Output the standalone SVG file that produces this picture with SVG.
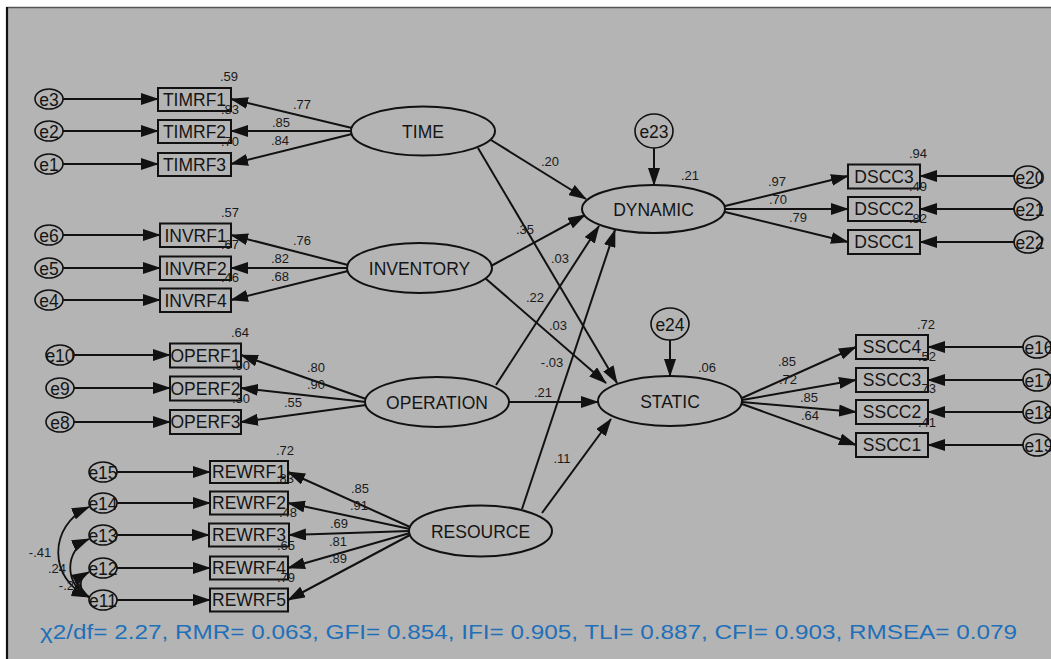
<svg xmlns="http://www.w3.org/2000/svg" width="1051" height="659" viewBox="0 0 1051 659">
  <style>
    .bg { fill: #b4b4b4; }
    .lat { fill: #b4b4b4; stroke: #111; stroke-width: 2; }
    .obs { fill: #b4b4b4; stroke: #111; stroke-width: 2; }
    .err { fill: #b4b4b4; stroke: #111; stroke-width: 1.6; }
    .path { fill: none; stroke: #111; stroke-width: 2; marker-end: url(#ah); }
    .cov { fill: none; stroke: #111; stroke-width: 1.8; marker-start: url(#ah); marker-end: url(#ah); }
    .lt { font-family: "Liberation Sans", Arial, sans-serif; font-size: 17.5px; fill: #141414; text-anchor: middle; }
    .ot { font-family: "Liberation Sans", Arial, sans-serif; font-size: 17.5px; fill: #141414; text-anchor: middle; }
    .et { font-family: "Liberation Sans", Arial, sans-serif; font-size: 17.5px; fill: #141414; text-anchor: middle; }
    .num { font-family: "Liberation Sans", Arial, sans-serif; font-size: 13px; fill: #1a1a1a; text-anchor: middle; }
    .fit { font-family: "Liberation Sans", Arial, sans-serif; font-size: 20px; fill: #1f70b8; }
  </style>
  <defs>
    <marker id="ah" markerUnits="userSpaceOnUse" markerWidth="18" markerHeight="12" refX="17" refY="6" orient="auto-start-reverse">
      <path d="M0,0 L18,6 L0,12 z" fill="#111"/>
    </marker>
  </defs>

  <!-- canvas -->
  <rect x="0" y="0" width="1051" height="659" fill="#ffffff"/>
  <rect class="bg" x="7" y="7" width="1044" height="652"/>
  <line x1="7" y1="7.5" x2="1051" y2="7.5" stroke="#555" stroke-width="1.5"/>
  <line x1="7" y1="7" x2="7" y2="659" stroke="#111" stroke-width="2.2"/>

  <!-- connectors -->
  <g id="connectors">
    <!-- error terms to indicators -->
    <line class="path" x1="63" y1="99" x2="158" y2="99"/>
    <line class="path" x1="63" y1="131" x2="158" y2="131"/>
    <line class="path" x1="63" y1="164" x2="158" y2="164"/>
    <line class="path" x1="63" y1="235" x2="160" y2="235"/>
    <line class="path" x1="63" y1="268" x2="160" y2="268"/>
    <line class="path" x1="63" y1="300" x2="160" y2="300"/>
    <line class="path" x1="74" y1="355" x2="170" y2="355"/>
    <line class="path" x1="74" y1="388" x2="170" y2="388"/>
    <line class="path" x1="74" y1="422" x2="170" y2="422"/>
    <line class="path" x1="117" y1="472" x2="210" y2="472"/>
    <line class="path" x1="117" y1="503" x2="210" y2="503"/>
    <line class="path" x1="117" y1="535" x2="209" y2="535"/>
    <line class="path" x1="117" y1="568" x2="210" y2="568"/>
    <line class="path" x1="117" y1="600" x2="210" y2="600"/>
    <line class="path" x1="1014" y1="176" x2="920" y2="176"/>
    <line class="path" x1="1014" y1="209" x2="920" y2="209"/>
    <line class="path" x1="1014" y1="242" x2="920" y2="242"/>
    <line class="path" x1="1023" y1="347" x2="928" y2="347"/>
    <line class="path" x1="1023" y1="380" x2="928" y2="380"/>
    <line class="path" x1="1023" y1="412" x2="928" y2="412"/>
    <line class="path" x1="1023" y1="445" x2="928" y2="445"/>
    <line class="path" x1="654" y1="148" x2="654" y2="185"/>
    <line class="path" x1="670" y1="340" x2="670" y2="376"/>

    <!-- loadings -->
    <line class="path" x1="352" y1="128" x2="231" y2="99"/>
    <line class="path" x1="352" y1="131" x2="231" y2="131"/>
    <line class="path" x1="352" y1="134" x2="231" y2="164"/>
    <line class="path" x1="348" y1="265" x2="231" y2="235"/>
    <line class="path" x1="348" y1="268" x2="231" y2="268"/>
    <line class="path" x1="348" y1="271" x2="231" y2="300"/>
    <line class="path" x1="366" y1="399" x2="241" y2="355"/>
    <line class="path" x1="366" y1="402" x2="241" y2="388"/>
    <line class="path" x1="366" y1="405" x2="241" y2="422"/>
    <line class="path" x1="410" y1="527" x2="288" y2="472"/>
    <line class="path" x1="410" y1="529" x2="288" y2="503"/>
    <line class="path" x1="410" y1="531" x2="289" y2="535"/>
    <line class="path" x1="410" y1="533" x2="288" y2="568"/>
    <line class="path" x1="410" y1="535" x2="288" y2="600"/>
    <line class="path" x1="725" y1="206" x2="848" y2="176"/>
    <line class="path" x1="725" y1="209" x2="848" y2="209"/>
    <line class="path" x1="725" y1="212" x2="848" y2="242"/>
    <line class="path" x1="742" y1="398" x2="856" y2="347"/>
    <line class="path" x1="742" y1="400" x2="856" y2="380"/>
    <line class="path" x1="742" y1="402" x2="856" y2="412"/>
    <line class="path" x1="742" y1="404" x2="856" y2="445"/>

    <!-- structural paths -->
    <line class="path" x1="491" y1="140" x2="586" y2="199"/>
    <line class="path" x1="478" y1="148" x2="617" y2="383"/>
    <line class="path" x1="491" y1="266" x2="585" y2="215"/>
    <line class="path" x1="485" y1="278" x2="606" y2="383"/>
    <line class="path" x1="496" y1="385" x2="599" y2="226"/>
    <line class="path" x1="509" y1="402" x2="598" y2="402"/>
    <line class="path" x1="522" y1="509" x2="615" y2="230"/>
    <line class="path" x1="542" y1="513" x2="611" y2="419"/>

    <!-- covariances among residuals -->
    <path class="cov" d="M89,507 C48,525 48,580 89,597"/>
    <path class="cov" d="M89,539 C64,550 64,585 89,597"/>
    <path class="cov" d="M89,572 C78,578 78,590 89,597"/>
  </g>

  <!-- latent variables -->
  <g id="TIME"><ellipse class="lat" cx="423" cy="131" rx="72" ry="24.5"/><text class="lt" x="423" y="137.5">TIME</text></g>
  <g id="INVENTORY"><ellipse class="lat" cx="419.5" cy="268" rx="72.5" ry="25"/><text class="lt" x="419.5" y="274.5">INVENTORY</text></g>
  <g id="OPERATION"><ellipse class="lat" cx="437" cy="402" rx="72" ry="25"/><text class="lt" x="437" y="408.5">OPERATION</text></g>
  <g id="RESOURCE"><ellipse class="lat" cx="480.5" cy="531" rx="71.5" ry="25.5"/><text class="lt" x="480.5" y="537.5">RESOURCE</text></g>
  <g id="DYNAMIC"><ellipse class="lat" cx="653.5" cy="209" rx="71.5" ry="24"/><text class="lt" x="653.5" y="215.5">DYNAMIC</text></g>
  <g id="STATIC"><ellipse class="lat" cx="670" cy="401" rx="72" ry="25"/><text class="lt" x="670" y="407.5">STATIC</text></g>

  <!-- observed indicators -->
  <g id="TIMRF1"><rect class="obs" x="158" y="88" width="73" height="23"/><text class="ot" x="194.5" y="105.5">TIMRF1</text></g>
  <g id="TIMRF2"><rect class="obs" x="158" y="120" width="73" height="23"/><text class="ot" x="194.5" y="137.5">TIMRF2</text></g>
  <g id="TIMRF3"><rect class="obs" x="158" y="153" width="73" height="23"/><text class="ot" x="194.5" y="170.5">TIMRF3</text></g>
  <g id="INVRF1"><rect class="obs" x="160" y="223.5" width="71" height="23.5"/><text class="ot" x="195.5" y="241.5">INVRF1</text></g>
  <g id="INVRF2"><rect class="obs" x="160" y="256.5" width="71" height="23.5"/><text class="ot" x="195.5" y="274.5">INVRF2</text></g>
  <g id="INVRF4"><rect class="obs" x="160" y="288.5" width="71" height="23.5"/><text class="ot" x="195.5" y="306.5">INVRF4</text></g>
  <g id="OPERF1"><rect class="obs" x="170" y="343.5" width="71" height="24"/><text class="ot" x="205.5" y="361.5">OPERF1</text></g>
  <g id="OPERF2"><rect class="obs" x="170" y="376.5" width="71" height="24"/><text class="ot" x="205.5" y="394.5">OPERF2</text></g>
  <g id="OPERF3"><rect class="obs" x="170" y="410" width="71" height="24"/><text class="ot" x="205.5" y="428">OPERF3</text></g>
  <g id="REWRF1"><rect class="obs" x="210" y="461" width="78" height="22"/><text class="ot" x="249" y="478">REWRF1</text></g>
  <g id="REWRF2"><rect class="obs" x="210" y="491.5" width="78" height="23"/><text class="ot" x="249" y="509">REWRF2</text></g>
  <g id="REWRF3"><rect class="obs" x="209" y="523.5" width="80" height="23"/><text class="ot" x="249" y="541">REWRF3</text></g>
  <g id="REWRF4"><rect class="obs" x="210" y="556.5" width="78" height="23"/><text class="ot" x="249" y="574">REWRF4</text></g>
  <g id="REWRF5"><rect class="obs" x="210" y="588.5" width="78" height="23"/><text class="ot" x="249" y="606">REWRF5</text></g>
  <g id="DSCC3"><rect class="obs" x="848" y="164.5" width="72" height="24"/><text class="ot" x="884" y="182.5">DSCC3</text></g>
  <g id="DSCC2"><rect class="obs" x="848" y="197" width="72" height="24"/><text class="ot" x="884" y="215">DSCC2</text></g>
  <g id="DSCC1"><rect class="obs" x="848" y="230" width="72" height="24"/><text class="ot" x="884" y="248">DSCC1</text></g>
  <g id="SSCC4"><rect class="obs" x="856" y="335" width="72" height="24"/><text class="ot" x="892" y="353">SSCC4</text></g>
  <g id="SSCC3"><rect class="obs" x="856" y="368" width="72" height="24"/><text class="ot" x="892" y="386">SSCC3</text></g>
  <g id="SSCC2"><rect class="obs" x="856" y="400" width="72" height="24"/><text class="ot" x="892" y="418">SSCC2</text></g>
  <g id="SSCC1"><rect class="obs" x="856" y="433" width="72" height="24"/><text class="ot" x="892" y="451">SSCC1</text></g>

  <!-- error terms -->
  <g id="e3"><ellipse class="err" cx="49" cy="99" rx="14" ry="10"/><text class="et" x="49" y="105.5">e3</text></g>
  <g id="e2"><ellipse class="err" cx="49" cy="131" rx="14" ry="10"/><text class="et" x="49" y="137.5">e2</text></g>
  <g id="e1"><ellipse class="err" cx="49" cy="164" rx="14" ry="10"/><text class="et" x="49" y="170.5">e1</text></g>
  <g id="e6"><ellipse class="err" cx="49" cy="235" rx="14" ry="10"/><text class="et" x="49" y="241.5">e6</text></g>
  <g id="e5"><ellipse class="err" cx="49" cy="268" rx="14" ry="10"/><text class="et" x="49" y="274.5">e5</text></g>
  <g id="e4"><ellipse class="err" cx="49" cy="300" rx="14" ry="10"/><text class="et" x="49" y="306.5">e4</text></g>
  <g id="e10"><ellipse class="err" cx="60" cy="355" rx="14" ry="10"/><text class="et" x="60" y="361.5">e10</text></g>
  <g id="e9"><ellipse class="err" cx="60" cy="388" rx="14" ry="10"/><text class="et" x="60" y="394.5">e9</text></g>
  <g id="e8"><ellipse class="err" cx="60" cy="422" rx="14" ry="10"/><text class="et" x="60" y="428.5">e8</text></g>
  <g id="e15"><ellipse class="err" cx="103" cy="472" rx="14" ry="10"/><text class="et" x="103" y="478.5">e15</text></g>
  <g id="e14"><ellipse class="err" cx="103" cy="503" rx="14" ry="10"/><text class="et" x="103" y="509.5">e14</text></g>
  <g id="e13"><ellipse class="err" cx="103" cy="535" rx="14" ry="10"/><text class="et" x="103" y="541.5">e13</text></g>
  <g id="e12"><ellipse class="err" cx="103" cy="568" rx="14" ry="10"/><text class="et" x="103" y="574.5">e12</text></g>
  <g id="e11"><ellipse class="err" cx="103" cy="600" rx="14" ry="10"/><text class="et" x="103" y="606.5">e11</text></g>
  <g id="e23"><ellipse class="err" cx="654" cy="131" rx="19" ry="17"/><text class="et" x="654" y="137.5">e23</text></g>
  <g id="e24"><ellipse class="err" cx="670" cy="324" rx="19" ry="16"/><text class="et" x="670" y="330.5">e24</text></g>
  <g id="e20"><ellipse class="err" cx="1028" cy="177" rx="14" ry="11"/><text class="et" x="1030" y="183.5">e20</text></g>
  <g id="e21"><ellipse class="err" cx="1028" cy="209" rx="14" ry="11"/><text class="et" x="1030" y="215.5">e21</text></g>
  <g id="e22"><ellipse class="err" cx="1028" cy="242" rx="14" ry="11"/><text class="et" x="1030" y="248.5">e22</text></g>
  <g id="e16"><ellipse class="err" cx="1037" cy="347" rx="14" ry="11"/><text class="et" x="1039" y="353.5">e16</text></g>
  <g id="e17"><ellipse class="err" cx="1037" cy="380" rx="14" ry="11"/><text class="et" x="1039" y="386.5">e17</text></g>
  <g id="e18"><ellipse class="err" cx="1037" cy="412" rx="14" ry="11"/><text class="et" x="1039" y="418.5">e18</text></g>
  <g id="e19"><ellipse class="err" cx="1037" cy="445" rx="14" ry="11"/><text class="et" x="1039" y="451.5">e19</text></g>

  <!-- standardized estimates -->
  <g id="estimates">
    <text class="num" x="229" y="80.5">.59</text>
    <text class="num" x="302" y="108.5">.77</text>
    <text class="num" x="281" y="126.5">.85</text>
    <text class="num" x="280" y="144.5">.84</text>
    <text class="num" x="230" y="113.5">.83</text>
    <text class="num" x="230" y="145.5">.70</text>
    <text class="num" x="230" y="216.5">.57</text>
    <text class="num" x="302" y="244.5">.76</text>
    <text class="num" x="280" y="262.5">.82</text>
    <text class="num" x="280" y="280.5">.68</text>
    <text class="num" x="230" y="248.5">.67</text>
    <text class="num" x="230" y="281.5">.46</text>
    <text class="num" x="240" y="336.5">.64</text>
    <text class="num" x="316" y="371.5">.80</text>
    <text class="num" x="241" y="369.5">.90</text>
    <text class="num" x="316" y="388.5">.90</text>
    <text class="num" x="241" y="402.5">.30</text>
    <text class="num" x="293" y="406.5">.55</text>
    <text class="num" x="285" y="454.5">.72</text>
    <text class="num" x="285" y="482.5">.83</text>
    <text class="num" x="288" y="516.5">.48</text>
    <text class="num" x="286" y="549.5">.65</text>
    <text class="num" x="286" y="581.5">.79</text>
    <text class="num" x="360" y="492.5">.85</text>
    <text class="num" x="359" y="509.5">.91</text>
    <text class="num" x="339" y="527.5">.69</text>
    <text class="num" x="338" y="545.5">.81</text>
    <text class="num" x="338" y="562.5">.89</text>
    <text class="num" x="40" y="556.5">-.41</text>
    <text class="num" x="57" y="572.5">.24</text>
    <text class="num" x="70" y="589.5">-.23</text>
    <text class="num" x="550" y="165.5">.20</text>
    <text class="num" x="525" y="233.5">.35</text>
    <text class="num" x="560" y="262.5">.03</text>
    <text class="num" x="535" y="301.5">.22</text>
    <text class="num" x="558" y="329.5">.03</text>
    <text class="num" x="552" y="366.5">-.03</text>
    <text class="num" x="543" y="396.5">.21</text>
    <text class="num" x="562" y="462.5">.11</text>
    <text class="num" x="690" y="179.5">.21</text>
    <text class="num" x="707" y="371.5">.06</text>
    <text class="num" x="918" y="157.5">.94</text>
    <text class="num" x="918" y="190.5">.49</text>
    <text class="num" x="918" y="222.5">.82</text>
    <text class="num" x="777" y="185.5">.97</text>
    <text class="num" x="778" y="203.5">.70</text>
    <text class="num" x="798" y="221.5">.79</text>
    <text class="num" x="926" y="328.5">.72</text>
    <text class="num" x="927" y="361">.52</text>
    <text class="num" x="927" y="393">.73</text>
    <text class="num" x="927" y="426.5">.41</text>
    <text class="num" x="787" y="366">.85</text>
    <text class="num" x="788" y="384">.72</text>
    <text class="num" x="809" y="402">.85</text>
    <text class="num" x="810" y="419.5">.64</text>
  </g>

  <!-- model fit -->
  <text class="fit" x="40" y="639" textLength="977" lengthAdjust="spacingAndGlyphs">χ2/df= 2.27, RMR= 0.063, GFI= 0.854, IFI= 0.905, TLI= 0.887, CFI= 0.903, RMSEA= 0.079</text>
</svg>
